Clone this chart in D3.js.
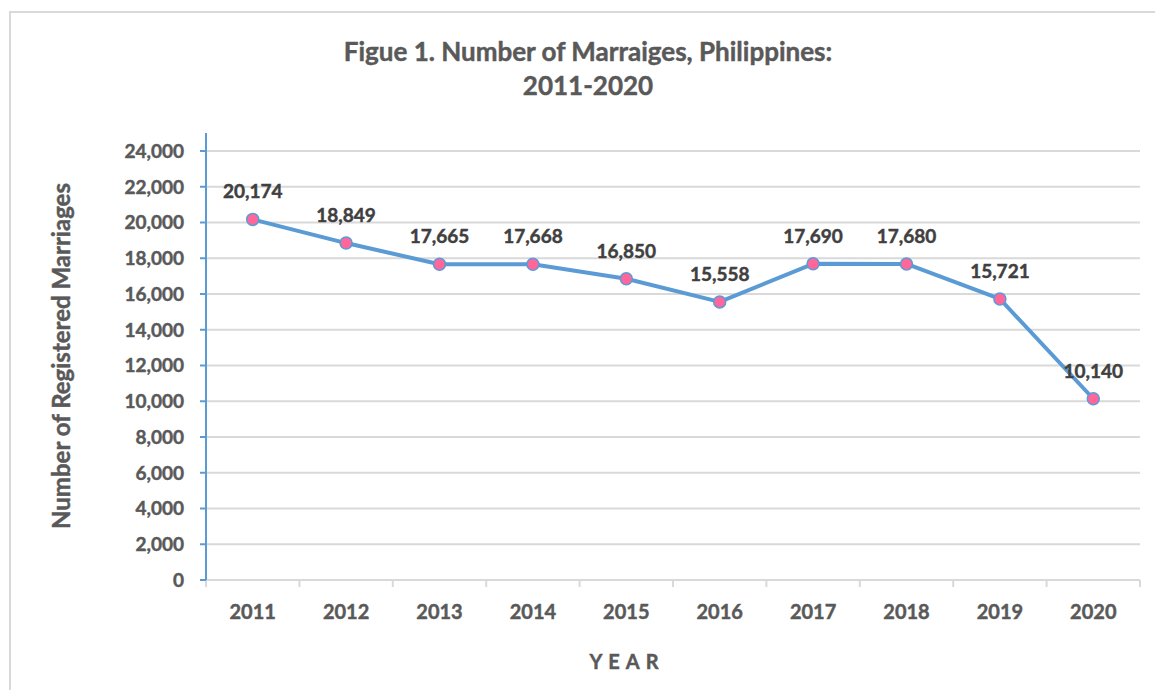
<!DOCTYPE html>
<html lang="en">
<head>
    <meta charset="UTF-8">
    <title>Number of Marriages, Philippines</title>
    <script src="https://d3js.org/d3.v7.min.js"></script>
    <style>
        body { margin: 0; background: #fff; font-family: Lato, "Open Sans", sans-serif; }
        svg text { font-weight: bold; stroke-width: 0.45px; }
    </style>
</head>
<body>
    <svg id="chart" width="1155" height="690"></svg>
    <script>
        // chart data
        const years = ["2011", "2012", "2013", "2014", "2015", "2016", "2017", "2018", "2019", "2020"];
        const marriages = [20174, 18849, 17665, 17668, 16850, 15558, 17690, 17680, 15721, 10140];
        const yTicks = [0, 2000, 4000, 6000, 8000, 10000, 12000, 14000, 16000, 18000, 20000, 22000, 24000];

        const svg = d3.select("#chart");
        const margin = { left: 206, right: 1140, top: 151, bottom: 580 };

        // chart border
        svg.append("rect")
            .attr("x", 10).attr("y", 12)
            .attr("width", 1160).attr("height", 700)
            .attr("fill", "none").attr("stroke", "#d9d9d9").attr("stroke-width", 2);

        const x = d3.scaleBand().domain(years).range([margin.left, margin.right]);
        const y = d3.scaleLinear().domain([0, 24000]).range([margin.bottom, margin.top]);

        // gridlines
        svg.append("g").selectAll("line")
            .data(yTicks.slice(1))
            .join("line")
            .attr("x1", margin.left).attr("x2", margin.right)
            .attr("y1", d => y(d)).attr("y2", d => y(d))
            .attr("stroke", "#d9d9d9").attr("stroke-width", 2);

        // x axis
        const xAxis = svg.append("g").attr("transform", `translate(0,${margin.bottom})`);
        xAxis.append("line")
            .attr("x1", margin.left).attr("x2", margin.right)
            .attr("stroke", "#d9d9d9").attr("stroke-width", 2);
        xAxis.selectAll(".tick")
            .data(years.concat(["end"]))
            .join("line")
            .attr("x1", (d, i) => i < years.length ? x(d) : margin.right)
            .attr("x2", (d, i) => i < years.length ? x(d) : margin.right)
            .attr("y1", 0).attr("y2", 7)
            .attr("stroke", "#d9d9d9").attr("stroke-width", 2);
        xAxis.selectAll("text")
            .data(years)
            .join("text")
            .attr("x", d => x(d) + x.bandwidth() / 2)
            .attr("y", 39)
            .attr("text-anchor", "middle")
            .attr("fill", "#595959").attr("stroke", "#595959")
            .style("font-size", "20px")
            .text(d => d);

        // y axis
        const yAxis = svg.append("g").attr("transform", `translate(${margin.left},0)`);
        yAxis.append("line")
            .attr("y1", 133).attr("y2", margin.bottom)
            .attr("stroke", "#5B9BD5").attr("stroke-width", 2);
        yAxis.selectAll(".tick")
            .data(yTicks)
            .join("line")
            .attr("x1", -6).attr("x2", 0)
            .attr("y1", d => y(d)).attr("y2", d => y(d))
            .attr("stroke", "#5B9BD5").attr("stroke-width", 2);
        yAxis.selectAll("text")
            .data(yTicks)
            .join("text")
            .attr("x", -22)
            .attr("y", d => y(d))
            .attr("dy", "0.36em")
            .attr("text-anchor", "end")
            .attr("fill", "#595959").attr("stroke", "#595959")
            .style("font-size", "19px")
            .text(d => d3.format(",")(d));

        // line
        const cx = d => x(d) + x.bandwidth() / 2;
        const line = d3.line()
            .x((d, i) => cx(years[i]))
            .y(d => y(d));
        svg.append("path")
            .datum(marriages)
            .attr("d", line)
            .attr("fill", "none")
            .attr("stroke", "#5B9BD5")
            .attr("stroke-width", 4)
            .attr("stroke-linejoin", "round");

        // markers
        svg.append("g").selectAll("circle")
            .data(marriages)
            .join("circle")
            .attr("cx", (d, i) => cx(years[i]))
            .attr("cy", d => y(d))
            .attr("r", 6)
            .attr("fill", "#FF6699")
            .attr("stroke", "#5B9BD5")
            .attr("stroke-width", 1.5);

        // data labels
        svg.append("g").selectAll("text")
            .data(marriages)
            .join("text")
            .attr("x", (d, i) => cx(years[i]))
            .attr("y", d => y(d) - 21)
            .attr("text-anchor", "middle")
            .attr("fill", "#404040").attr("stroke", "#404040")
            .style("font-size", "19px")
            .text(d => d3.format(",")(d));

        // title
        const title = svg.append("text")
            .attr("x", 588).attr("y", 61)
            .attr("text-anchor", "middle")
            .attr("fill", "#595959").attr("stroke", "#595959")
            .style("font-size", "26px");
        title.append("tspan").attr("x", 588).text("Figue 1. Number of Marraiges, Philippines:");
        title.append("tspan").attr("x", 588).attr("dy", 34).text("2011-2020");

        // axis titles
        svg.append("text")
            .attr("transform", "translate(70,356) rotate(-90)")
            .attr("text-anchor", "middle")
            .attr("fill", "#595959").attr("stroke", "#595959")
            .style("font-size", "24px")
            .text("Number of Registered Marriages");

        svg.append("text")
            .attr("x", 627).attr("y", 669)
            .attr("text-anchor", "middle")
            .attr("fill", "#595959").attr("stroke", "#595959")
            .style("font-size", "20px")
            .style("letter-spacing", "6px")
            .text("YEAR");
    </script>
</body>
</html>
